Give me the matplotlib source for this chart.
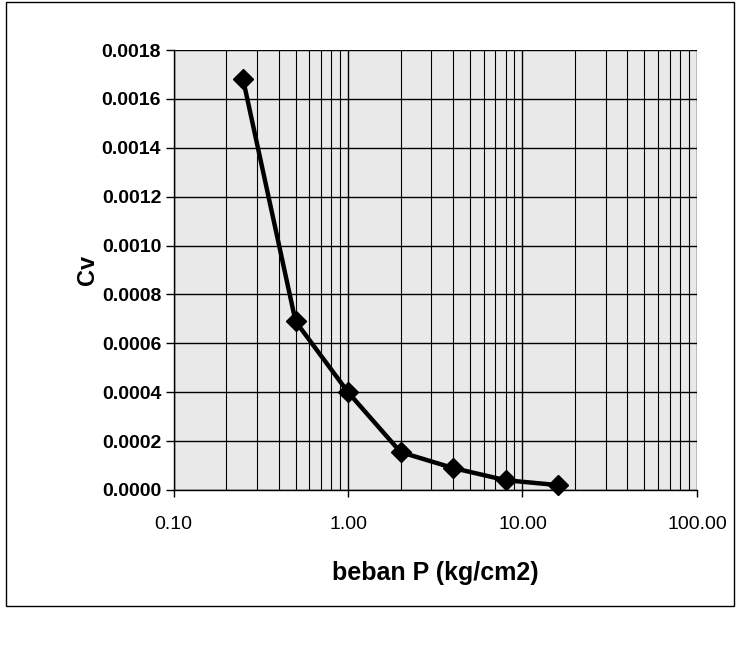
import matplotlib
matplotlib.use("Agg")
import matplotlib.pyplot as plt
from matplotlib.ticker import LogLocator, FixedLocator, FuncFormatter, MultipleLocator, NullFormatter
from matplotlib.patches import Rectangle

# Data
load_p = [0.25, 0.5, 1.0, 2.0, 4.0, 8.0, 16.0]
cv = [0.00168, 0.00069, 0.00040, 0.000155, 0.00009, 0.00004, 0.00002]
x_ticks = [0.1, 1.0, 10.0, 100.0]
x_tick_labels = ["0.10", "1.00", "10.00", "100.00"]

plt.rcParams['font.family'] = ['Liberation Sans', 'DejaVu Sans']

fig = plt.figure(figsize=(7.39, 6.46), dpi=100)
ax = fig.add_axes([0.235, 0.2415, 0.708, 0.681])
ax.set_facecolor('#e9e9e9')

ax.set_xscale('log')
ax.set_xlim(0.1, 100)
ax.set_ylim(0, 0.0018)

ax.xaxis.set_major_locator(FixedLocator(x_ticks))
ax.xaxis.set_major_formatter(FuncFormatter(lambda v, p: dict(zip(x_ticks, x_tick_labels)).get(v, "")))
ax.xaxis.set_minor_locator(LogLocator(base=10, subs=range(2, 10)))
ax.xaxis.set_minor_formatter(NullFormatter())
ax.yaxis.set_major_locator(MultipleLocator(0.0002))
ax.yaxis.set_major_formatter(FuncFormatter(lambda v, p: f"{v:.4f}"))

ax.grid(True, which='major', axis='both', color='black', linewidth=1.0)
ax.grid(True, which='minor', axis='x', color='black', linewidth=0.8)
ax.set_axisbelow(True)

for s in ['top', 'right']:
    ax.spines[s].set_visible(False)
ax.spines['left'].set_linewidth(1.0)
ax.spines['bottom'].set_linewidth(1.0)

ax.tick_params(axis='y', which='major', length=6, width=1, labelsize=14, pad=3)
ax.tick_params(axis='x', which='major', length=5, width=1, labelsize=14, pad=14)
ax.tick_params(axis='x', which='minor', length=0)
for lab in ax.get_yticklabels():
    lab.set_fontweight('bold')

ax.plot(load_p, cv, color='black', linewidth=3.2, marker='D', markersize=10,
        markerfacecolor='black', markeredgecolor='black', clip_on=False)

ax.set_ylabel("Cv", fontsize=17, fontweight='bold', labelpad=2)
ax.set_xlabel("beban P (kg/cm2)", fontsize=18, fontweight='bold', labelpad=20)

# outer chart frame
fig.patches.append(Rectangle((0.008, 0.062), 0.985, 0.935, transform=fig.transFigure,
                             fill=False, edgecolor='black', linewidth=1.0))

fig.savefig("out.png", dpi=100)
